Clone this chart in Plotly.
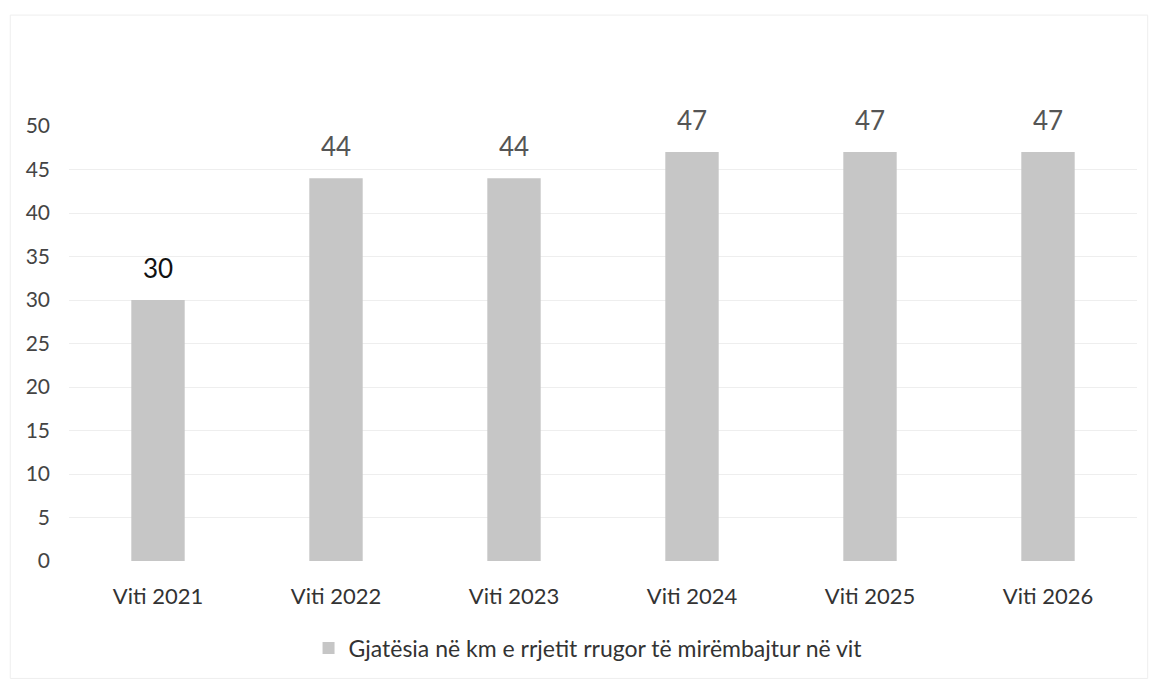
import plotly.graph_objects as go

# Road network length maintained per year (km)
years = ["Viti 2021", "Viti 2022", "Viti 2023", "Viti 2024", "Viti 2025", "Viti 2026"]
km_maintained = [30, 44, 44, 47, 47, 47]
label_colors = ["#111111", "#555555", "#555555", "#555555", "#555555", "#555555"]
y_ticks = [0, 5, 10, 15, 20, 25, 30, 35, 40, 45, 50]

series_name = "Gjatësia në km e rrjetit rrugor të mirëmbajtur në vit"
font_family = "Lato, 'Open Sans', sans-serif"

fig = go.Figure()
fig.add_trace(go.Bar(
    x=years,
    y=km_maintained,
    name=series_name,
    marker=dict(color="#c6c6c6", line=dict(width=0)),
    width=0.3,
    showlegend=True,
))

# Value labels above each bar
for yr, v, c in zip(years, km_maintained, label_colors):
    fig.add_annotation(
        x=yr, y=v, text=str(v), showarrow=False,
        yanchor="bottom", yshift=14,
        font=dict(family=font_family, size=26, color=c),
    )

fig.update_layout(
    width=1154, height=682,
    margin=dict(l=69, r=17, t=126, b=119),
    paper_bgcolor="white",
    plot_bgcolor="white",
    font=dict(family=font_family, color="#444444"),
    bargap=0.7,
    legend=dict(
        orientation="h", x=0.486, xanchor="center", xref="paper",
        y=-0.20, yanchor="middle",
        font=dict(family=font_family, size=23, color="#333333"),
        itemsizing="constant",
    ),
    xaxis=dict(
        showgrid=False, showline=False, zeroline=False,
        tickfont=dict(family=font_family, size=22, color="#333333"),
        ticks="", ticklabelstandoff=20,
    ),
    yaxis=dict(
        range=[0, 50], tickvals=y_ticks,
        showgrid=True, gridcolor="#eeeeee", gridwidth=1,
        zeroline=False, showline=False,
        tickfont=dict(family=font_family, size=21, color="#444444"),
        ticks="", ticklabelstandoff=18,
    ),
)

# Faint outer frame
fig.add_shape(type="rect", xref="paper", yref="paper",
              x0=-0.055, x1=1.01, y0=-0.27, y1=1.255,
              line=dict(color="#eeeeee", width=1))

fig.write_html("out.html")
